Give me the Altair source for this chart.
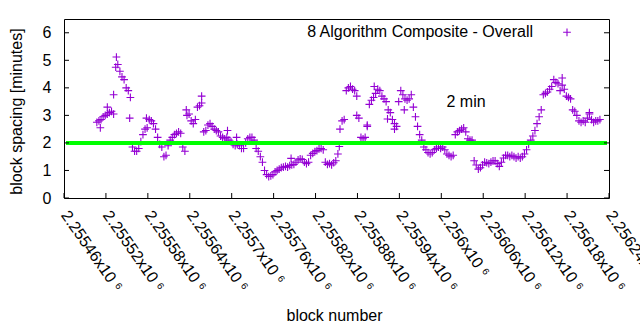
import altair as alt
import pandas as pd

# ---- data ----
FIRST_BLOCK = 2255507
BLOCK_STEP = 3
spacing = [
    2.75, 2.8, 2.85, 2.95, 3.0, 3.05, 3.1, 3.15, 3.05, 4.75,
    4.85, 4.6, 4.4, 4.3, 4.0, 3.9, 3.65, 1.85, 1.7, 1.7,
    1.8, 2.05, 2.3, 2.5, 2.55, 2.85, 2.8, 2.7, 2.5, 2.2,
    1.95, 1.85, 1.5, 1.55, 1.9, 2.1, 2.2, 2.3, 2.35, 2.4,
    2.35, 1.85, 1.7, 3.0, 3.05, 2.8, 2.7, 2.85, 3.3, 3.35,
    3.45, 2.4, 2.45, 2.65, 2.7, 2.6, 2.5, 2.45, 2.4, 2.25,
    2.2, 2.15, 2.2, 2.1, 2.05, 1.95, 1.9, 1.95, 1.9, 1.8,
    1.8, 2.0, 2.15, 2.2, 2.2, 2.1, 1.8, 1.7, 1.5, 1.3,
    1.0, 0.85, 0.78, 0.8, 0.85, 0.95, 1.0, 1.05, 1.1, 1.12,
    1.15, 1.12, 1.18, 1.2, 1.22, 1.3, 1.38, 1.42, 1.4, 1.3,
    1.25, 1.3, 1.55, 1.62, 1.68, 1.72, 1.78, 1.8, 1.75, 1.3,
    1.22, 1.25, 1.2, 1.28, 1.35, 1.6, 2.5, 2.8, 2.85, 3.9,
    4.0, 4.05, 3.95, 3.9, 3.0, 2.9, 2.2, 2.15, 2.2, 2.6,
    3.4, 3.55, 3.65, 3.8, 3.95, 3.9, 3.7, 3.6, 3.5, 3.2,
    3.1, 2.85, 2.7, 2.6, 3.5, 3.9, 3.75, 3.6, 3.55, 3.6,
    3.75, 3.3, 2.95, 2.6, 2.3, 2.1, 1.85, 1.75, 1.65, 1.6,
    1.65, 1.75, 1.8, 1.85, 1.8, 1.85, 1.75, 1.6, 1.55, 1.5,
    1.55, 2.3, 2.4, 2.45, 2.5, 2.55, 2.4, 2.15, 2.1, 2.1,
    1.35, 1.2, 1.05, 1.1, 1.2, 1.3, 1.28, 1.25, 1.3, 1.35,
    1.35, 1.25, 1.15, 1.3, 1.45, 1.55, 1.55, 1.5, 1.55, 1.5,
    1.45, 1.5, 1.45, 1.5, 1.6, 1.75, 1.95, 2.1, 2.25, 2.45,
    2.7, 2.95, 3.2, 3.75, 3.8, 3.85, 3.95, 4.05, 4.3, 4.2,
    4.15, 3.9, 4.1, 3.95, 3.7, 3.65, 3.6, 3.2, 3.15, 3.0,
    2.8, 2.75, 2.8, 2.75, 2.9, 3.05, 2.85, 2.75, 2.8, 2.8,
    2.85,
]
extra_blocks = [2255512, 2255522, 2255531, 2255535, 2255554, 2255578, 2255635,
                2255657, 2255694, 2255707, 2255785, 2255854, 2255879, 2255894,
                2255904, 2255923, 2255933, 2255947, 2256173, 2256212]
extra_spacing = [2.55, 3.3, 3.75, 5.12, 2.9, 2.9, 3.2,
                 3.7, 2.45, 2.2, 1.44, 1.87, 3.7, 2.65,
                 4.05, 2.87, 2.5, 3.2, 4.36, 3.1]

x_ticks = [2255460, 2255520, 2255580, 2255640, 2255700, 2255760, 2255820,
           2255880, 2255940, 2256000, 2256060, 2256120, 2256180, 2256240]
y_ticks = [0, 1, 2, 3, 4, 5, 6]
series_name = "8 Algorithm Composite - Overall"
target_value = [2]
target_label = "2 min"

# ---- build tables ----
blocks = [FIRST_BLOCK + BLOCK_STEP * i for i in range(len(spacing))]
df = pd.DataFrame({"block": blocks + extra_blocks,
                   "spacing": spacing + extra_spacing})

FONT = "Liberation Sans"
FS = 16
PLUS = "M-1,0L1,0M0,-1L0,1"
W, H = 545, 179

x_scale = alt.Scale(domain=[2255460, 2256240], nice=False, zero=False)
y_scale = alt.Scale(domain=[0, 6.5], nice=False, zero=True)

x_axis = alt.Axis(
    values=x_ticks,
    labelExpr="format(datum.value / 1000000, '.7~g') + 'x10 ⁶'",
    labelAngle=55, labelAlign="left", labelBaseline="middle",
    labelPadding=14, labelFlush=False, labelOverlap=False,
    labelFont=FONT, labelFontSize=FS, labelColor="black",
    tickSize=0, domain=False, grid=False,
    title="block number", titleFont=FONT, titleFontSize=FS,
    titleFontWeight="normal", titleColor="black",
    titleX=270, titleY=122, titleBaseline="alphabetic", titleAlign="center",
)
y_axis = alt.Axis(
    values=y_ticks, labelPadding=13, labelFont=FONT, labelFontSize=FS,
    labelColor="black", tickSize=0, domain=False, grid=False,
    title="block spacing [minutes]", titleFont=FONT, titleFontSize=FS,
    titleFontWeight="normal", titleColor="black",
    titleX=-42.5, titleY=92, titleAngle=270, titleBaseline="alphabetic",
    titleAlign="center",
)

X = alt.X("block:Q", scale=x_scale, axis=x_axis)
Y = alt.Y("spacing:Q", scale=y_scale, axis=y_axis)

points = alt.Chart(df).mark_point(
    shape=PLUS, filled=False, size=60, strokeWidth=1.1, color="#9400d3", opacity=1
).encode(x=X, y=Y)

target = alt.Chart(pd.DataFrame({"spacing": target_value})).mark_rule(
    color="#00ff00", strokeWidth=4
).encode(y=Y, x=alt.value(2), x2=alt.value(W - 2))

ytick_df = pd.DataFrame({"spacing": y_ticks})
xtick_df = pd.DataFrame({"block": x_ticks})
left_ticks = alt.Chart(ytick_df).mark_rule(color="black", strokeWidth=1).encode(
    y=Y, x=alt.value(0), x2=alt.value(5))
right_ticks = alt.Chart(ytick_df).mark_rule(color="black", strokeWidth=1).encode(
    y=Y, x=alt.value(W - 5), x2=alt.value(W))
bottom_ticks = alt.Chart(xtick_df).mark_rule(color="black", strokeWidth=1).encode(
    x=X, y=alt.value(H), y2=alt.value(H - 5))

label_df = pd.DataFrame({"label": [series_name]})
legend_text = alt.Chart(label_df).mark_text(
    align="right", baseline="alphabetic", font=FONT, fontSize=FS, color="black"
).encode(text="label:N", x=alt.value(469), y=alt.value(18.3))
legend_symbol = alt.Chart(label_df).mark_point(
    shape=PLUS, filled=False, size=60, strokeWidth=1.1, color="#9400d3", opacity=1
).encode(x=alt.value(503), y=alt.value(13.3))

min_df = pd.DataFrame({"label": [target_label]})
min_text = alt.Chart(min_df).mark_text(
    align="left", baseline="alphabetic", font=FONT, fontSize=FS, color="black"
).encode(text="label:N", x=alt.value(382.5), y=alt.value(87.7))

chart = alt.layer(
    points, target, left_ticks, right_ticks, bottom_ticks,
    legend_text, legend_symbol, min_text
).properties(
    width=W, height=H,
    autosize=alt.AutoSizeParams(type="none"),
    padding={"left": 64, "top": 19, "right": 31, "bottom": 132},
    background="white",
).configure_view(stroke="black", strokeWidth=1)

chart.save("out.html", embed_options={"renderer": "svg", "actions": False})
